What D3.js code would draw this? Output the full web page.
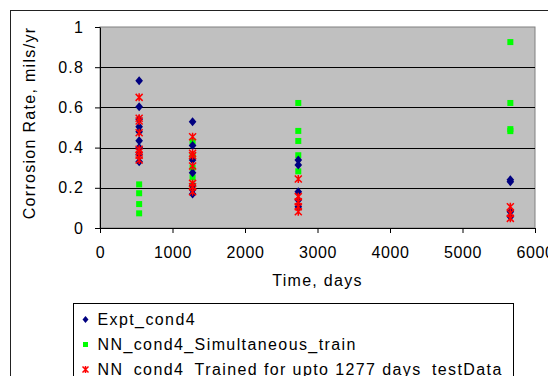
<!DOCTYPE html>
<html>
<head>
<meta charset="utf-8">
<script src="https://cdn.jsdelivr.net/npm/d3@7"></script>
<style>
  body { margin: 0; background: #fff; }
  text { font-family: "Liberation Sans", Arial, sans-serif; fill: #000; }
</style>
</head>
<body>
<div id="chart"></div>
<script>
// days for each cluster of readings
const days = [540, 1277, 2735, 5660];

const exptDays = [540, 540, 540, 540, 540, 540, 540, 540, 540,
  1277, 1277, 1277, 1277, 1277, 1277, 1277,
  2735, 2735, 2735, 2735, 2735,
  5660, 5660, 5660, 5660];
const exptRate = [0.733, 0.603, 0.541, 0.504, 0.479, 0.434, 0.401, 0.367, 0.330,
  0.529, 0.410, 0.338, 0.275, 0.210, 0.190, 0.169,
  0.338, 0.313, 0.180, 0.139, 0.106,
  0.240, 0.230, 0.081, 0.056];

const simDays = [540, 540, 540, 540,
  1277, 1277, 1277, 1277, 1277,
  2735, 2735, 2735, 2735, 2735,
  5660, 5660, 5660, 5660];
const simRate = [0.217, 0.173, 0.119, 0.073,
  0.430, 0.360, 0.300, 0.252, 0.210,
  0.622, 0.483, 0.433, 0.362, 0.282,
  0.925, 0.622, 0.492, 0.482];

const testDays = [540, 540, 540, 540, 540, 540, 540, 540,
  1277, 1277, 1277, 1277, 1277, 1277, 1277,
  2735, 2735, 2735, 2735, 2735,
  5660, 5660, 5660];
const testRate = [0.650, 0.546, 0.532, 0.474, 0.392, 0.378, 0.362, 0.338,
  0.454, 0.372, 0.360, 0.308, 0.222, 0.205, 0.180,
  0.244, 0.156, 0.131, 0.106, 0.081,
  0.106, 0.073, 0.048];

const xTicks = [0, 1000, 2000, 3000, 4000, 5000, 6000];
const yTicks = [0, 0.2, 0.4, 0.6, 0.8, 1];
const yTickLabels = ["0", "0.2", "0.4", "0.6", "0.8", "1"];
const seriesNames = ["Expt_cond4", "NN_cond4_Simultaneous_train", "NN_cond4_Trained for upto 1277 days_testData"];

const width = 548, height = 376;
const margin = {top: 27, right: 13, bottom: 148, left: 100};
const font = '"Liberation Sans", Arial, sans-serif';

const svg = d3.select('#chart').append('svg')
  .attr('width', width)
  .attr('height', height);

// outer chart border (runs off the picture at right/bottom)
svg.append('rect')
  .attr('x', 10.5).attr('y', 10.5)
  .attr('width', 600).attr('height', 500)
  .attr('fill', 'none').attr('stroke', '#222').attr('stroke-width', 1);

const x = d3.scaleLinear().domain([0, 6000]).range([margin.left, width - margin.right]);
const y = d3.scaleLinear().domain([0, 1]).range([height - margin.bottom, margin.top]);

// plot area
svg.append('rect')
  .attr('x', x(0)).attr('y', y(1))
  .attr('width', x(6000) - x(0)).attr('height', y(0) - y(1))
  .attr('fill', '#c0c0c0').attr('stroke', '#808080');

// gridlines
svg.append('g').selectAll('line')
  .data(yTicks.filter(d => d > 0 && d < 1))
  .enter().append('line')
    .attr('x1', x(0)).attr('x2', x(6000))
    .attr('y1', d => Math.round(y(d)) + 0.5).attr('y2', d => Math.round(y(d)) + 0.5)
    .attr('stroke', '#000');

const yAxis = svg.append('g')
  .attr('transform', 'translate(' + x(0) + ',0)')
  .call(d3.axisLeft(y).tickValues(yTicks).tickSize(5).tickSizeOuter(0)
    .tickFormat((d, i) => yTickLabels[i]));
const xAxis = svg.append('g')
  .attr('transform', 'translate(0,' + y(0) + ')')
  .call(d3.axisBottom(x).tickValues(xTicks).tickSize(5).tickSizeOuter(0)
    .tickFormat(d => String(d)));

[xAxis, yAxis].forEach(a => {
  a.select('.domain').attr('stroke', '#000');
  a.selectAll('.tick line').attr('stroke', '#000');
  a.selectAll('text').style('font-size', '16px').style('font-family', font);
});
yAxis.selectAll('text').attr('x', -16).style('letter-spacing', '1.2px');
xAxis.selectAll('text').attr('y', 19).style('letter-spacing', '0.6px');

// markers
function diamond(s) { return 'M0,' + (-s) + 'L' + (s * 0.85) + ',0L0,' + s + 'L' + (-s * 0.85) + ',0Z'; }
function star(s) {
  return 'M' + (-s) + ',' + (-s) + 'L' + s + ',' + s +
    'M' + s + ',' + (-s) + 'L' + (-s) + ',' + s +
    'M0,' + (-s - 0.5) + 'L0,' + (s + 0.5);
}

const plot = svg.append('g');

plot.selectAll('.sim')
  .data(simRate)
  .enter().append('rect')
    .attr('class', 'sim')
    .attr('x', (d, i) => x(simDays[i]) - 3)
    .attr('y', d => y(d) - 3)
    .attr('width', 6).attr('height', 6)
    .attr('fill', '#00ff00');

plot.selectAll('.expt')
  .data(exptRate)
  .enter().append('path')
    .attr('class', 'expt')
    .attr('transform', (d, i) => 'translate(' + x(exptDays[i]) + ',' + y(d) + ')')
    .attr('d', diamond(4.5))
    .attr('fill', '#000080');

plot.selectAll('.test')
  .data(testRate)
  .enter().append('path')
    .attr('class', 'test')
    .attr('transform', (d, i) => 'translate(' + x(testDays[i]) + ',' + y(d) + ')')
    .attr('d', star(3.5))
    .attr('fill', 'none')
    .attr('stroke', '#ff0000')
    .attr('stroke-width', 1.5);

// axis titles
svg.append('text')
  .attr('x', (x(0) + x(6000)) / 2).attr('y', 286)
  .attr('text-anchor', 'middle')
  .style('font-size', '16px')
  .style('letter-spacing', '1.3px')
  .text('Time, days');

svg.append('text')
  .attr('transform', 'translate(35,123) rotate(-90)')
  .attr('text-anchor', 'middle')
  .style('font-size', '16px')
  .style('letter-spacing', '1.3px')
  .text('Corrosion Rate, mils/yr');

// legend
const legend = svg.append('g').attr('transform', 'translate(73.5,303.5)');
legend.append('rect')
  .attr('width', 440).attr('height', 100)
  .attr('fill', '#fff').attr('stroke', '#000');

const legendY = [16, 41, 66];
const item = legend.selectAll('.item')
  .data(seriesNames)
  .enter().append('g')
    .attr('class', 'item')
    .attr('transform', (d, i) => 'translate(12,' + legendY[i] + ')');

item.append('text')
  .attr('x', 12).attr('dy', '0.35em')
  .style('font-size', '16px')
  .style('letter-spacing', '1.4px')
  .text(d => d);

item.filter((d, i) => i === 0).append('path').attr('d', diamond(3.5)).attr('fill', '#000080');
item.filter((d, i) => i === 1).append('rect').attr('x', -2.5).attr('y', -2.5).attr('width', 5).attr('height', 5).attr('fill', '#00ff00');
item.filter((d, i) => i === 2).append('path').attr('d', star(3)).attr('fill', 'none').attr('stroke', '#ff0000').attr('stroke-width', 1.5);
</script>
</body>
</html>
